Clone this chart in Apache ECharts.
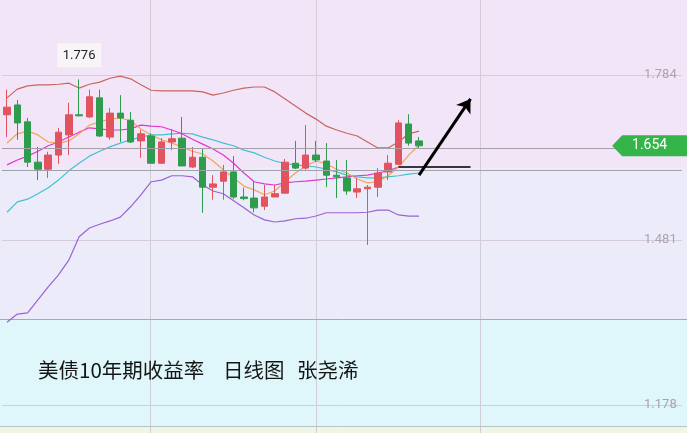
<!DOCTYPE html>
<html><head><meta charset="utf-8">
<script src="https://cdn.jsdelivr.net/npm/echarts@6/dist/echarts.min.js"></script>
<style>html,body{margin:0;padding:0;}#c{width:687px;height:433px}</style>
</head><body><div id="c"></div>
<script>
// 41 trading days shown, then empty future slots
const days = ['D01','D02','D03','D04','D05','D06','D07','D08','D09','D10','D11','D12','D13','D14','D15','D16','D17','D18','D19','D20','D21','D22','D23','D24','D25','D26','D27','D28','D29','D30','D31','D32','D33','D34','D35','D36','D37','D38','D39','D40','D41'];
const futureSlotCount = 25;
// [open, close, low, high]
const ohlc = [
 [1.711,1.725,1.670,1.757],[1.729,1.696,1.665,1.738],[1.698,1.624,1.615,1.705],[1.624,1.611,1.591,1.652],
 [1.611,1.637,1.595,1.643],[1.637,1.679,1.621,1.687],[1.674,1.711,1.637,1.733],[1.711,1.709,1.708,1.776],
 [1.707,1.744,1.705,1.757],[1.742,1.672,1.670,1.757],[1.670,1.714,1.665,1.723],[1.714,1.705,1.661,1.747],
 [1.701,1.661,1.659,1.716],[1.663,1.676,1.632,1.683],[1.672,1.622,1.621,1.677],[1.622,1.661,1.621,1.668],
 [1.661,1.667,1.646,1.685],[1.668,1.617,1.617,1.707],[1.615,1.633,1.613,1.652],[1.633,1.578,1.531,1.650],
 [1.578,1.584,1.555,1.600],[1.589,1.606,1.555,1.619],[1.606,1.560,1.556,1.635],[1.560,1.557,1.554,1.577],
 [1.558,1.540,1.532,1.588],[1.543,1.560,1.536,1.582],[1.560,1.566,1.560,1.582],[1.567,1.624,1.567,1.630],
 [1.622,1.613,1.611,1.663],[1.613,1.637,1.610,1.692],[1.637,1.628,1.624,1.663],[1.626,1.600,1.578,1.659],
 [1.600,1.597,1.558,1.628],[1.595,1.571,1.564,1.628],[1.569,1.575,1.558,1.595],[1.575,1.578,1.472,1.582],
 [1.578,1.604,1.560,1.613],[1.606,1.622,1.591,1.637],[1.620,1.696,1.619,1.701],[1.694,1.659,1.654,1.712],
 [1.663,1.654,1.650,1.670]
];
const bollUpper = [1.742,1.758,1.764,1.766,1.766,1.767,1.769,1.760,1.767,1.771,1.778,1.782,1.777,1.766,1.756,1.755,1.755,1.755,1.755,1.753,1.747,1.751,1.756,1.760,1.762,1.762,1.753,1.740,1.727,1.714,1.703,1.690,1.683,1.677,1.672,1.661,1.650,1.650,1.661,1.676,1.681];
const bollLower = [1.330,1.345,1.347,1.371,1.395,1.417,1.444,1.487,1.503,1.510,1.516,1.523,1.542,1.564,1.588,1.591,1.599,1.599,1.597,1.582,1.571,1.566,1.553,1.540,1.527,1.518,1.514,1.516,1.520,1.521,1.525,1.531,1.531,1.531,1.531,1.532,1.536,1.536,1.527,1.525,1.525];
const maCyan = [1.532,1.551,1.556,1.566,1.577,1.591,1.608,1.622,1.635,1.644,1.652,1.659,1.665,1.670,1.674,1.674,1.676,1.677,1.676,1.670,1.665,1.659,1.654,1.646,1.641,1.633,1.626,1.621,1.619,1.617,1.615,1.611,1.606,1.600,1.597,1.595,1.595,1.597,1.599,1.602,1.604];
const maMagenta = [1.619,1.628,1.635,1.644,1.654,1.661,1.670,1.679,1.687,1.685,1.683,1.683,1.685,1.692,1.690,1.689,1.683,1.676,1.666,1.657,1.648,1.637,1.622,1.604,1.588,1.584,1.582,1.586,1.588,1.589,1.591,1.593,1.595,1.597,1.599,1.600,1.604,1.608,1.615,1.615,1.615];
const maOrange = [1.659,1.676,1.681,1.674,1.661,1.659,1.663,1.676,1.692,1.698,1.703,1.705,1.700,1.685,1.674,1.665,1.659,1.652,1.644,1.639,1.626,1.610,1.595,1.580,1.573,1.564,1.571,1.588,1.604,1.617,1.626,1.621,1.611,1.604,1.593,1.586,1.588,1.599,1.615,1.637,1.655];
const priceTicks = [1.178, 1.481, 1.784];
const lastPrice = 1.654;
const supportLevel = 1.615;
const highLabel = 1.776;
const title = ['美债10年期收益率', '日线图', '张尧浠'];

const axisSlots = days.concat(Array.from({length: futureSlotCount}, (_, i) => 'F' + (i + 1)));
const chart = echarts.init(document.getElementById('c'));
const lineS = (name, data, color) => ({
  name, type: 'line', data, symbol: 'none', smooth: false,
  lineStyle: {color, width: 1.2}, z: 3, silent: true
});
const tagPath = 'path://M0,10 L10,0 L75,0 L75,20 L10,20 Z';
chart.setOption({
  animation: false,
  backgroundColor: {
    type: 'linear', x: 0, y: 0, x2: 0, y2: 1,
    colorStops: [
      {offset: 0, color: '#f3e5f8'}, {offset: 0.386, color: '#f3e5f8'},
      {offset: 0.386, color: '#ecebfa'}, {offset: 0.739, color: '#ecebfa'},
      {offset: 0.739, color: '#dff6fa'}, {offset: 0.986, color: '#dff6fa'},
      {offset: 0.986, color: '#eef7e4'}, {offset: 1, color: '#eef7e4'}
    ]
  },
  grid: {left: 1.85, right: 5.3, top: 0, bottom: 0},
  xAxis: {
    type: 'category', data: axisSlots, boundaryGap: true,
    axisLine: {show: false}, axisTick: {show: false}, axisLabel: {show: false}, splitLine: {show: false}
  },
  yAxis: {
    type: 'value', position: 'right', min: 1.12657, max: 1.92173,
    axisLine: {show: false},
    axisTick: {show: false, customValues: priceTicks},
    splitLine: {show: true, lineStyle: {color: '#d4ccd9', width: 1}},
    axisLabel: {inside: true, customValues: priceTicks, color: '#aaa4ae', fontSize: 13,
      fontFamily: 'Roboto', margin: 5, formatter: v => v.toFixed(3)}
  },
  graphic: [
    {type: 'line', shape: {x1: 150.5, y1: 0, x2: 150.5, y2: 433}, style: {stroke: '#d2cbd8', lineWidth: 1}, z: -1, silent: true},
    {type: 'line', shape: {x1: 316.5, y1: 0, x2: 316.5, y2: 433}, style: {stroke: '#d2cbd8', lineWidth: 1}, z: -1, silent: true},
    {type: 'line', shape: {x1: 480.5, y1: 0, x2: 480.5, y2: 433}, style: {stroke: '#d2cbd8', lineWidth: 1}, z: -1, silent: true},
    {type: 'line', shape: {x1: 0, y1: 319.5, x2: 687, y2: 319.5}, style: {stroke: '#a9a9b4', lineWidth: 1}, z: -1, silent: true},
    {type: 'line', shape: {x1: 0, y1: 426.5, x2: 687, y2: 426.5}, style: {stroke: '#b8c4c4', lineWidth: 1}, z: -1, silent: true},
    {type: 'text', left: 38, top: 360, style: {text: title[0], fontSize: 20.5, fill: '#151515', fontFamily: 'Noto Sans CJK SC'}},
    {type: 'text', left: 223, top: 360, style: {text: title[1], fontSize: 20.5, fill: '#151515', fontFamily: 'Noto Sans CJK SC'}},
    {type: 'text', left: 297, top: 360, style: {text: title[2], fontSize: 20.5, fill: '#151515', fontFamily: 'Noto Sans CJK SC'}}
  ],
  series: [
    lineS('upper', bollUpper, '#c9655d'),
    lineS('lower', bollLower, '#9c62d2'),
    lineS('cyan', maCyan, '#3fc3d3'),
    lineS('magenta', maMagenta, '#e236cf'),
    lineS('orange', maOrange, '#f2a55a'),
    {
      type: 'candlestick', data: ohlc, barWidth: 7, z: 4,
      itemStyle: {color: '#e0535f', color0: '#2f9b4d', borderColor: '#e0535f', borderColor0: '#2f9b4d', borderWidth: 1},
      markLine: {
        silent: true, symbol: 'none', animation: false,
        label: {show: false},
        data: [
          {yAxis: lastPrice, lineStyle: {color: '#a3a0a8', width: 1, type: 'solid'}},
          {yAxis: supportLevel, lineStyle: {color: '#a3a0a8', width: 1, type: 'solid'}},
          [{coord: [38.4, supportLevel], lineStyle: {color: '#3a3340', width: 2, type: 'solid'}}, {coord: [45.4, supportLevel]}],
          [{coord: [40, 1.600], symbol: 'none', lineStyle: {color: '#000', width: 3, type: 'solid'}}, {coord: [45, 1.740], symbol: 'arrow', symbolSize: 13}]
        ]
      },
      markPoint: {
        silent: true, animation: false,
        data: [
          {coord: [7, highLabel], symbol: 'rect', symbolSize: [44, 24], symbolOffset: [0, -24],
            itemStyle: {color: 'rgba(248,244,248,0.95)'},
            label: {show: true, formatter: highLabel.toFixed(3), color: '#222', fontSize: 13, fontFamily: 'Roboto'}},
          {coord: [62, lastPrice], symbol: tagPath, symbolSize: [75, 21], symbolOffset: [4, 0],
            itemStyle: {color: '#34b449'},
            label: {show: true, formatter: lastPrice.toFixed(3), color: '#fff', fontSize: 14, fontFamily: 'Roboto'}}
        ]
      }
    }
  ]
});
</script></body></html>
